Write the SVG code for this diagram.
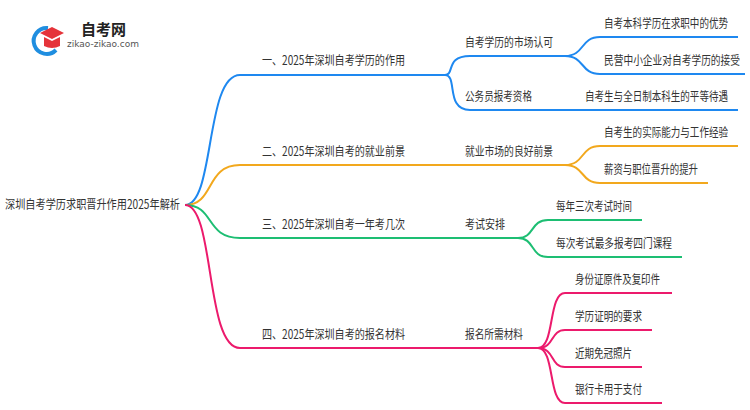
<svg xmlns="http://www.w3.org/2000/svg" width="750" height="410" viewBox="0 0 750 410">
<style>
text{font-family:"Noto Sans CJK SC","Liberation Sans",sans-serif;font-size:12.5px;fill:#333}
.c{fill:none;stroke-width:2}
.b{stroke:#1e88f0}.o{stroke:#f2a81d}.g{stroke:#1dbe73}.p{stroke:#ec1a6c}
</style>
<rect width="750" height="410" fill="#fff"/>
<g id="logo">
<path d="M48 28 A13 13 0 1 0 56 50" fill="none" stroke="#1f8ee0" stroke-width="4"/>
<path d="M40 33 L52 27 L64 33 L52 39 Z" fill="#e5333a"/>
<path d="M44 37 L44 46 Q52 50 60 46 L60 37 L52 41 Z" fill="#e5333a"/>
<text x="81" y="35" style="font-size:15px;font-weight:bold;fill:#222">自考网</text>
<text x="67" y="47" style="font-size:9px;fill:#555;font-family:'DejaVu Sans',sans-serif">zikao-zikao.com</text>
</g>
<g id="connectors">
<path class="c b" d="M185 205 C215 205 205 75 240 75 H445"/>
<path class="c b" d="M445 75 C455 75 445 56 470 56 H565 C585 56 580 37 600 37 H738"/>
<path class="c b" d="M565 56 C585 56 580 74 600 74 H745"/>
<path class="c b" d="M445 75 C458 75 445 110 470 110 H738"/>
<path class="c o" d="M185 205 C215 205 205 165 240 165 H565 C585 165 580 146 600 146 H738"/>
<path class="c o" d="M565 165 C585 165 580 183 600 183 H708"/>
<path class="c g" d="M185 205 C215 205 205 238 240 238 H518 C535 238 530 220 548 220 H642"/>
<path class="c g" d="M518 238 C535 238 530 257 548 257 H682"/>
<path class="c p" d="M185 205 C215 205 205 348 240 348 H538 C555 348 548 293 565 293 H672"/>
<path class="c p" d="M538 348 C555 348 550 330 565 330 H652"/>
<path class="c p" d="M538 348 C555 348 550 367 565 367 H642"/>
<path class="c p" d="M538 348 C555 348 548 403 565 403 H662"/>
</g>
<g id="root"><text x="5" y="209" textLength="175" lengthAdjust="spacingAndGlyphs">深圳自考学历求职晋升作用2025年解析</text></g>
<g id="n1"><text x="262" y="65" textLength="143" lengthAdjust="spacingAndGlyphs">一、2025年深圳自考学历的作用</text></g>
<g id="n1a"><text x="465" y="47" textLength="88" lengthAdjust="spacingAndGlyphs">自考学历的市场认可</text></g>
<g id="n1a1"><text x="604" y="28" textLength="124" lengthAdjust="spacingAndGlyphs">自考本科学历在求职中的优势</text></g>
<g id="n1a2"><text x="604" y="65" textLength="136" lengthAdjust="spacingAndGlyphs">民营中小企业对自考学历的接受</text></g>
<g id="n1b"><text x="465" y="101" textLength="67" lengthAdjust="spacingAndGlyphs">公务员报考资格</text></g>
<g id="n1b1"><text x="585" y="101" textLength="143" lengthAdjust="spacingAndGlyphs">自考生与全日制本科生的平等待遇</text></g>
<g id="n2"><text x="262" y="156" textLength="143" lengthAdjust="spacingAndGlyphs">二、2025年深圳自考的就业前景</text></g>
<g id="n2a"><text x="465" y="156" textLength="88" lengthAdjust="spacingAndGlyphs">就业市场的良好前景</text></g>
<g id="n2a1"><text x="604" y="137" textLength="124" lengthAdjust="spacingAndGlyphs">自考生的实际能力与工作经验</text></g>
<g id="n2a2"><text x="604" y="174" textLength="94" lengthAdjust="spacingAndGlyphs">薪资与职位晋升的提升</text></g>
<g id="n3"><text x="262" y="229" textLength="143" lengthAdjust="spacingAndGlyphs">三、2025年深圳自考一年考几次</text></g>
<g id="n3a"><text x="465" y="229" textLength="40" lengthAdjust="spacingAndGlyphs">考试安排</text></g>
<g id="n3a1"><text x="556" y="211" textLength="76" lengthAdjust="spacingAndGlyphs">每年三次考试时间</text></g>
<g id="n3a2"><text x="556" y="248" textLength="116" lengthAdjust="spacingAndGlyphs">每次考试最多报考四门课程</text></g>
<g id="n4"><text x="262" y="339" textLength="143" lengthAdjust="spacingAndGlyphs">四、2025年深圳自考的报名材料</text></g>
<g id="n4a"><text x="465" y="339" textLength="58" lengthAdjust="spacingAndGlyphs">报名所需材料</text></g>
<g id="n4a1"><text x="575" y="284" textLength="85" lengthAdjust="spacingAndGlyphs">身份证原件及复印件</text></g>
<g id="n4a2"><text x="575" y="321" textLength="67" lengthAdjust="spacingAndGlyphs">学历证明的要求</text></g>
<g id="n4a3"><text x="575" y="358" textLength="57" lengthAdjust="spacingAndGlyphs">近期免冠照片</text></g>
<g id="n4a4"><text x="575" y="394" textLength="67" lengthAdjust="spacingAndGlyphs">银行卡用于支付</text></g>
</svg>
